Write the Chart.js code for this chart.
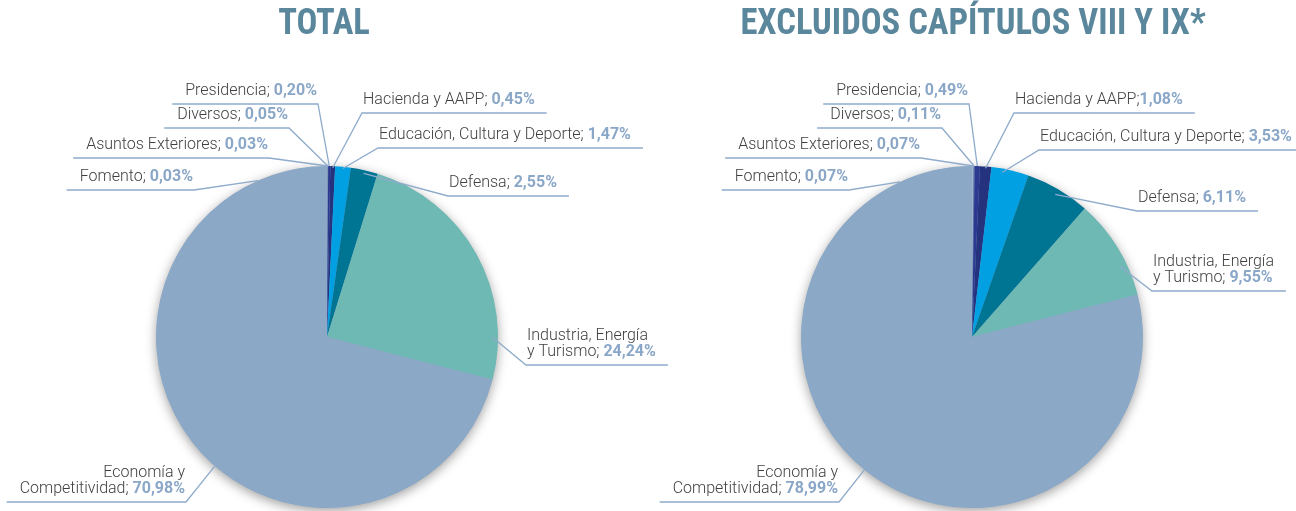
<!DOCTYPE html>
<html><head><meta charset="utf-8">
<script src="https://cdn.jsdelivr.net/npm/chart.js@4/dist/chart.umd.min.js"></script>
<style>
html,body{margin:0;padding:0;background:#fff;width:1296px;height:511px;overflow:hidden;}
canvas{position:absolute;left:0;top:0;}
</style></head><body>
<canvas id="c1" width="1296" height="511"></canvas>
<canvas id="c2" width="1296" height="511"></canvas>
<script>
// ---- DATA ----
const categories = ['Fomento','Asuntos Exteriores','Diversos','Presidencia','Hacienda y AAPP','Educación, Cultura y Deporte','Defensa','Industria, Energía y Turismo','Economía y Competitividad'];
const totalValues = [0.03, 0.03, 0.05, 0.20, 0.45, 1.47, 2.55, 24.24, 70.98];
const excludedValues = [0.07, 0.07, 0.11, 0.49, 1.08, 3.53, 6.11, 9.55, 78.99];
const chartTitles = ['TOTAL', 'EXCLUIDOS CAPÍTULOS VIII Y IX*'];
const labelLines = [['Fomento'],['Asuntos Exteriores'],['Diversos'],['Presidencia'],['Hacienda y AAPP'],['Educación, Cultura y Deporte'],['Defensa'],['Industria, Energía','y Turismo'],['Economía y','Competitividad']];

// ---- STYLE / LAYOUT ----
const sliceColors = ['#a9b8cc','#9fb0c6','#5f6fa8','#2b3990','#25337f','#00a0e2','#007593','#6fb9b4','#8ba8c7'];
const nameColor = '#3f3f3f';
const pctColor = '#8aa7c8';
const leaderColor = '#8eabcb';
const titleColor = '#5a879c';
const labelFont = '300 16px Roboto';
const labelBold = 'bold 16px Roboto';

const layouts = [
  { pad:{left:156,right:798,top:166,bottom:3}, titleX:324, sep:['; ','; ','; ','; ','; ','; ','; ','; ','; '],
    labels:[
      {side:'L', x:193, y:190, angle:-23.8, k:1.0},
      {side:'L', x:268, y:158, k:1.0},
      {side:'L', x:288, y:128, k:1.0},
      {side:'L', x:317, y:104, k:1.0},
      {side:'R', x:362, y:113, k:0.99},
      {side:'R', x:378, y:148, k:0.99},
      {side:'R', x:448, y:196, k:0.98},
      {side:'R', x:526, y:365, angle:90, k:0.965},
      {side:'L', x:185, y:502, angle:221, k:1.0}
    ]},
  { pad:{left:801,right:153,top:166,bottom:3}, titleX:973, sep:['; ','; ','; ','; ',';','; ','; ','; ','; '],
    labels:[
      {side:'L', x:848, y:190, angle:-24.9, k:1.0},
      {side:'L', x:920, y:158, k:1.0},
      {side:'L', x:941, y:128, k:1.0},
      {side:'L', x:968, y:104, k:1.0},
      {side:'R', x:1014, y:113, k:0.99},
      {side:'R', x:1039, y:150, angle:10.5, k:0.98},
      {side:'R', x:1137, y:211, k:0.965},
      {side:'R', x:1152, y:291, angle:64.7, k:0.96},
      {side:'L', x:838, y:502, angle:219, k:1.0}
    ]}
];

const fmt = v => v.toFixed(2).replace('.', ',') + '%';

const shadowPlugin = {
  id:'pieShadow',
  beforeDatasetsDraw(chart){
    const a = chart.getDatasetMeta(0).data[0];
    if(!a) return;
    const ctx = chart.ctx;
    ctx.save();
    ctx.shadowColor = 'rgba(0,0,0,0.40)';
    ctx.shadowBlur = 12;
    ctx.shadowOffsetY = 3;
    ctx.fillStyle = sliceColors[8];
    ctx.beginPath();
    ctx.arc(a.x, a.y, a.outerRadius - 0.5, 0, Math.PI*2);
    ctx.fill();
    ctx.restore();
  }
};

const calloutPlugin = {
  id:'callouts',
  afterDraw(chart, args, opts){
    const ctx = chart.ctx;
    const lay = opts.layout;
    const vals = chart.data.datasets[0].data;
    const meta = chart.getDatasetMeta(0);
    // title
    ctx.save();
    ctx.font = 'bold 36px "Liberation Sans Narrow", "Roboto Condensed", Roboto';
    ctx.fillStyle = titleColor;
    ctx.textAlign = 'center';
    ctx.textBaseline = 'middle';
    ctx.translate(lay.titleX, 25);
    ctx.scale(0.96, 1);
    ctx.fillText(opts.title, 0, 0);
    ctx.restore();

    lay.labels.forEach((L, i) => {
      const arc = meta.data[i];
      const ang = (L.angle !== undefined) ? (L.angle - 90) * Math.PI / 180 : (arc.startAngle + arc.endAngle) / 2;
      const ax = arc.x + Math.cos(ang) * arc.outerRadius * L.k;
      const ay = arc.y + Math.sin(ang) * arc.outerRadius * L.k;
      const lines = labelLines[i].slice();
      const pct = fmt(vals[i]);
      const sep = lay.sep[i];
      ctx.save();
      const widths = lines.map((t, j) => {
        ctx.font = labelFont;
        let w = ctx.measureText(t + (j === lines.length - 1 ? sep : '')).width;
        if (j === lines.length - 1) { ctx.font = labelBold; w += ctx.measureText(pct).width; }
        return w;
      });
      const maxW = Math.max(...widths);
      const n = lines.length;
      ctx.textBaseline = 'middle';
      lines.forEach((t, j) => {
        const cy = L.y - 13 - (n - 1 - j) * 16;
        const w = widths[j];
        let sx = (L.side === 'L') ? L.x - w : L.x + 1;
        ctx.textAlign = 'left';
        ctx.font = labelFont;
        ctx.fillStyle = nameColor;
        const first = t + (j === n - 1 ? sep : '');
        ctx.fillText(first, sx, cy);
        if (j === n - 1) {
          const fw = ctx.measureText(first).width;
          ctx.font = labelBold;
          ctx.fillStyle = pctColor;
          ctx.fillText(pct, sx + fw, cy);
        }
      });
      ctx.strokeStyle = leaderColor;
      ctx.lineWidth = 1.3;
      ctx.beginPath();
      if (L.side === 'L') {
        ctx.moveTo(L.x - maxW - 13, L.y);
        ctx.lineTo(L.x + 1, L.y);
      } else {
        ctx.moveTo(L.x + maxW + 13, L.y);
        ctx.lineTo(L.x, L.y);
      }
      ctx.lineTo(ax, ay);
      ctx.stroke();
      ctx.restore();
    });
  }
};

function makeChart(id, values, idx) {
  const lay = layouts[idx];
  return new Chart(document.getElementById(id), {
    type:'pie',
    data:{ labels: categories, datasets:[{ data: values, backgroundColor: sliceColors, borderWidth: 0 }] },
    options:{
      responsive:false, animation:false,
      layout:{ padding: lay.pad },
      plugins:{ legend:{display:false}, tooltip:{enabled:false}, title:{display:false},
        callouts:{ layout: lay, title: chartTitles[idx] } }
    },
    plugins:[shadowPlugin, calloutPlugin]
  });
}
makeChart('c1', totalValues, 0);
makeChart('c2', excludedValues, 1);
</script>
</body></html>
